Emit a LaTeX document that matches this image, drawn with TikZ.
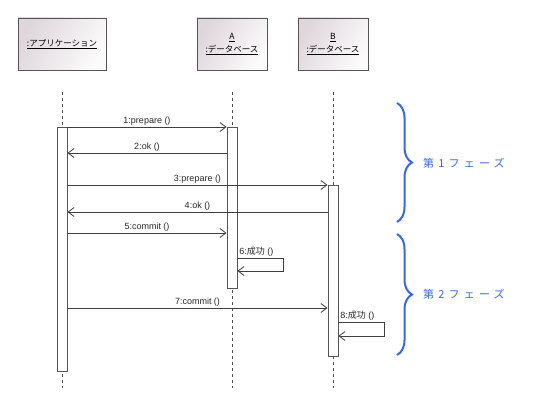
\documentclass[tikz,border=0pt]{standalone}
\usepackage{fontspec}
\setmainfont{Liberation Sans}
\newfontfamily\jpfont{Noto Sans CJK JP}
\newfontfamily\phasefont[LetterSpace=38]{Noto Sans CJK JP}
\usepackage{tikz}
\usetikzlibrary{arrows.meta,positioning,calc,decorations.pathreplacing}

\definecolor{phaseblue}{RGB}{51,102,255}
\definecolor{objframe}{RGB}{85,85,85}
\definecolor{objfill}{RGB}{222,214,219}

\tikzset{
	obj/.style={draw=objframe, line width=0.9pt, left color=objfill, right color=white!90!objfill, shading angle=60, minimum height=52pt, inner sep=0pt, align=center, font=\jpfont\fontsize{8.5}{13}\selectfont},
	lifeline/.style={draw=black!70, line width=0.8pt, dash pattern=on 3pt off 3pt},
	bar/.style={draw=objframe, line width=0.9pt, fill=white, minimum width=10pt, inner sep=0pt},
	msg/.style={->, >={Straight Barb[length=6pt,width=9pt]}, draw=black!75, line width=0.8pt},
	lbl/.style={font=\fontsize{9}{10}\selectfont, text=black!85, inner sep=1.5pt},
	phase/.style={draw=phaseblue, line width=2pt, decorate, decoration={brace, amplitude=15pt}},
	phaselbl/.style={font=\phasefont\fontsize{11}{13}\selectfont, text=phaseblue, anchor=west, inner sep=0pt}
}

\begin{document}
\begin{tikzpicture}[x=1pt, y=-1pt]
		\useasboundingbox (0,0) rectangle (550,404);
		
		% objects
		\node[obj, minimum width=88pt] (objApp) at (62,44) {\underline{:アプリケーション}};
		\node[obj, minimum width=70pt] (objA) at (232,44) {\underline{A}\\\underline{:データベース}};
		\node[obj, minimum width=70pt] (objB) at (333,44) {\underline{B}\\\underline{:データベース}};
		
		% lifelines
		\draw[lifeline] ([yshift=-22pt]objApp.south) -- ++(0,296);
		\draw[lifeline] ([yshift=-22pt]objA.south) -- ++(0,296);
		\draw[lifeline] ([yshift=-22pt]objB.south) -- ++(0,296);
		
		% activations
		\node[bar, minimum height=244pt] (barApp) at (62,249) {};
		\node[bar, minimum height=161pt] (barA) at (232,207.5) {};
		\node[bar, minimum height=171pt] (barB) at (333,270.5) {};
		
		\coordinate (m1) at (0,127);
		\coordinate (m2) at (0,153);
		\coordinate (m3) at (0,185);
		\coordinate (m4) at (0,212);
		\coordinate (m5) at (0,233);
		\coordinate (m6) at (283,258);
		\coordinate (m6b) at (283,271);
		\coordinate (m7) at (0,308);
		\coordinate (m8) at (384,322);
		\coordinate (m8b) at (384,336);
		
		% messages
		\draw[msg] (barApp.east |- m1) -- node[above, lbl] {1:prepare ()} (barA.west |- m1);
		\draw[msg] (barA.west |- m2) -- node[above, lbl] {2:ok ()} (barApp.east |- m2);
		\draw[msg] (barApp.east |- m3) -- node[above, lbl] {3:prepare ()} (barB.west |- m3);
		\draw[msg] (barB.west |- m4) -- node[above, lbl] {4:ok ()} (barApp.east |- m4);
		\draw[msg] (barApp.east |- m5) -- node[above, lbl] {5:commit ()} (barA.west |- m5);
		\draw[msg] (barA.east |- m6) node[above right, lbl] {6:{\jpfont 成功} ()} -- (m6) -- (m6b) -- (barA.east |- m6b);
		\draw[msg] (barApp.east |- m7) -- node[above, lbl] {7:commit ()} (barB.west |- m7);
		\draw[msg] (barB.east |- m8) node[above right, lbl] {8:{\jpfont 成功} ()} -- (m8) -- (m8b) -- (barB.east |- m8b);
		
		% phases
		\coordinate (ph1a) at (397,103);
		\coordinate (ph1b) at (397,222);
		\coordinate (ph2a) at (397,234);
		\coordinate (ph2b) at (397,355);
		\draw[phase] (ph1a) -- (ph1b);
		\draw[phase] (ph2a) -- (ph2b);
		\node[phaselbl] (ph1) at (423,163) {第1フェーズ};
		\node[phaselbl] (ph2) at (423,294) {第2フェーズ};
\end{tikzpicture}
\end{document}
